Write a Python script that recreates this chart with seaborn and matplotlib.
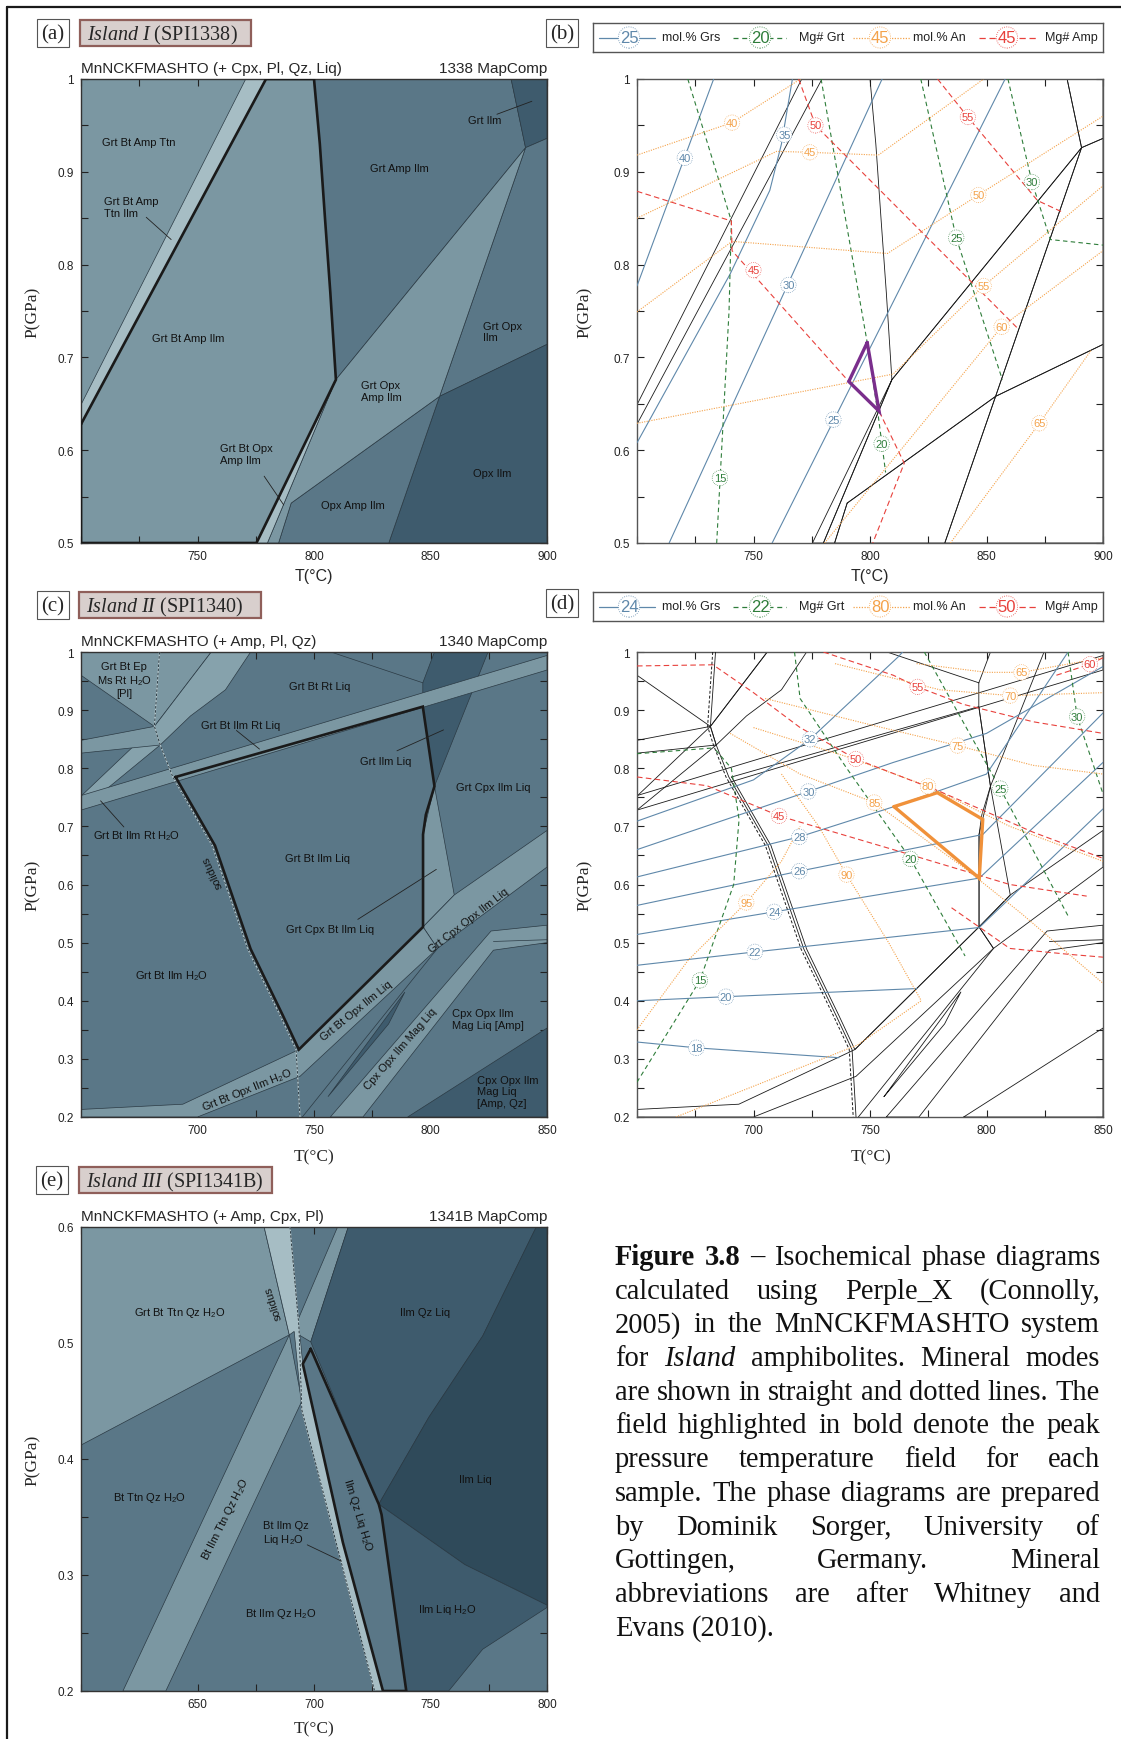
import numpy as np
import pandas as pd
import matplotlib
matplotlib.use("Agg")
import matplotlib.pyplot as plt
import seaborn as sns
from matplotlib.patches import Rectangle
from matplotlib.lines import Line2D

sns.set_theme(style="ticks")
plt.rcParams['font.family'] = ['Liberation Sans', 'DejaVu Sans']
plt.rcParams['mathtext.fontset'] = 'custom'
plt.rcParams['mathtext.rm'] = 'Liberation Sans'
plt.rcParams['mathtext.it'] = 'Liberation Serif:italic'

W, H = 1121, 1740
fig = plt.figure(figsize=(W / 100, H / 100), dpi=100)

# field shades
LL, L, M, D, DD = '#a6bdc4', '#7b97a2', '#5a7787', '#3e5b6d', '#2f4a5a'
BLUE, GREEN, ORANGE, RED = '#5f88aa', '#2e7d3a', '#f4a24a', '#e8413c'

# ---------------- data: panel (a) / (b)  T 700-900, P 0.5-1.0
a_fields = [
    (LL, [(700, 0.649), (770.7, 1.0), (779.4, 1.0), (700, 0.628)]),
    (M, [(800, 1.0), (884.6, 1.0), (890.8, 0.926), (809.4, 0.676), (807, 0.77), (804.8, 0.847), (802.5, 0.93)]),
    (D, [(884.6, 1.0), (900, 1.0), (900, 0.936), (890.8, 0.926)]),
    (M, [(890.8, 0.926), (900, 0.936), (900, 0.714), (853.9, 0.658)]),
    (D, [(853.9, 0.658), (900, 0.714), (900, 0.5), (832.1, 0.5)]),
    (M, [(790.2, 0.543), (853.9, 0.658), (832.1, 0.5), (784.8, 0.5)]),
    (L, [(809.4, 0.676), (890.8, 0.926), (853.9, 0.658), (790.2, 0.543), (784.8, 0.5), (780, 0.5)]),
    (LL, [(809.4, 0.676), (775.3, 0.5), (780, 0.5)]),
]
a_peak = [(700, 0.628), (779.4, 1.0), (800, 1.0), (802.5, 0.93), (804.8, 0.847), (807, 0.77),
          (809.4, 0.676), (775.3, 0.5), (700, 0.5)]
a_labels = [
    ("Grt Bt Amp Ttn", 724.6, 0.932, 0, 'center'),
    ("Grt Bt Amp\nTtn Ilm", 721.5, 0.862, 0, 'center'),
    ("Grt Amp Ilm", 836.6, 0.904, 0, 'center'),
    ("Grt Ilm", 873.1, 0.956, 0, 'center'),
    ("Grt Bt Amp Ilm", 746.0, 0.721, 0, 'center'),
    ("Grt Opx\nIlm", 880.8, 0.728, 0, 'center'),
    ("Grt Opx\nAmp Ilm", 828.9, 0.664, 0, 'center'),
    ("Grt Bt Opx\nAmp Ilm", 771.0, 0.596, 0, 'center'),
    ("Opx Amp Ilm", 816.7, 0.541, 0, 'center'),
    ("Opx Ilm", 876.5, 0.575, 0, 'center'),
]
a_leaders = [[(728.0, 0.851), (738.7, 0.827)], [(878.5, 0.962), (893.5, 0.976)],
             [(778.6, 0.572), (787.0, 0.541)]]

b_grs = {'40': [(700, 0.777), (732.9, 1.0)],
         '35': [(700, 0.608), (740, 0.79), (757, 0.88), (762, 0.93), (764, 0.96), (766.7, 1.0)],
         '30': [(713.8, 0.5), (805.2, 1.0)],
         '25': [(758, 0.5), (858, 1.0)]}
b_grs_lab = {'40': (720.5, 0.915), '35': (763.2, 0.94), '30': (765.0, 0.778), '25': (784.3, 0.633)}
b_grt = {'15': [(721.8, 1.0), (740.5, 0.847), (739.5, 0.75), (734.2, 0.5)],
         '20': [(779, 1.0), (798.8, 0.716), (803.6, 0.636), (806.7, 0.576)],
         '25': [(821.8, 1.0), (837, 0.829), (856.8, 0.676)],
         '30': [(859.2, 1.0), (869.5, 0.889), (877.4, 0.827), (900, 0.821)]}
b_grt_lab = {'15': (735.6, 0.570), '20': (805.0, 0.607), '25': (837, 0.829), '30': (869.5, 0.889)}
b_an = {'40': [(700, 0.918), (740.8, 0.953), (770.2, 1.0)],
        '45': [(700, 0.85), (759.9, 0.922), (774.2, 0.921), (803.6, 0.918), (848.8, 1.0)],
        '50': [(700, 0.749), (740.8, 0.825), (807.5, 0.812), (846.5, 0.875), (900, 0.96)],
        '55': [(700, 0.629), (809.9, 0.682), (848.8, 0.777), (900, 0.885)],
        '60': [(780.5, 0.5), (856.5, 0.733), (900, 0.815)],
        '65': [(834.5, 0.5), (872.7, 0.629), (895, 0.708)]}
b_an_lab = {'40': (740.8, 0.953), '45': (774.2, 0.921), '50': (846.5, 0.875), '55': (848.8, 0.777),
            '60': (856.5, 0.733), '65': (872.7, 0.629)}
b_amp = {'45': [(700, 0.879), (740.5, 0.847), (740.8, 0.815), (790.9, 0.674), (803.9, 0.642),
                (814.7, 0.586), (801.2, 0.5)],
         '50': [(769.4, 1.0), (776.6, 0.95), (863.9, 0.73)],
         '55': [(829, 1.0), (842, 0.959), (871.9, 0.869), (882.2, 0.857)]}
b_amp_lab = {'45': (750.0, 0.794), '50': (776.6, 0.95), '55': (842, 0.959)}
b_peak = [(798.8, 0.716), (790.9, 0.674), (803.9, 0.642)]
b_legend = ['25', '20', '45', '45']

# ---------------- data: panel (c) / (d)  T 650-850, P 0.2-1.0
c_fields = [
    (L, [(650, 1.0), (705.9, 1.0), (681.5, 0.872), (650, 0.96)]),
    ('#86a2ac', [(650, 0.752), (681.5, 0.872), (705.9, 1.0), (722.8, 1.0), (712, 0.935),
                 (697, 0.89), (684, 0.84), (650, 0.728)]),
    (L, [(650, 0.826), (650, 0.848), (681.5, 0.872), (684, 0.84)]),
    (D, [(796.7, 0.947), (801.7, 1.0), (824.7, 1.0), (801.7, 0.769), (796.7, 0.906)]),
    (L, [(650, 0.728), (650, 0.753), (850, 0.994), (850, 0.969)]),
    (L, [(801.7, 0.769), (810.2, 0.582), (796.8, 0.527), (796.8, 0.686)]),
    (L, [(796.8, 0.527), (810.2, 0.582), (850, 0.693), (850, 0.63), (803, 0.49)]),
    (L, [(650, 0.213), (693.7, 0.222), (743.5, 0.316), (796.8, 0.527), (803, 0.49), (744, 0.27),
         (700, 0.2), (650, 0.2)]),
    (L, [(757, 0.2), (771, 0.2), (827, 0.487), (850, 0.5), (850, 0.53), (826, 0.52)]),
    (D, [(756, 0.235), (789, 0.415), (782, 0.36)]),
    (D, [(790.2, 0.2), (850, 0.353), (850, 0.2)]),
]
c_extra = [[(757.3, 1.0), (796.7, 0.947)], [(827, 0.502), (850, 0.505)],
           [(745, 0.2), (803, 0.49)]]
c_peak = [(690.6, 0.785), (796.7, 0.906), (801.7, 0.769), (798, 0.72), (796.8, 0.686), (796.8, 0.527),
          (743.5, 0.316), (736.6, 0.375), (722.8, 0.489), (707.5, 0.667)]
c_solidus = [(683.7, 1.0), (681.5, 0.872), (684, 0.84), (689.4, 0.785), (706.3, 0.667),
             (721.6, 0.489), (735.4, 0.375), (742.3, 0.316), (744, 0.2)]
c_labels = [
    ("Grt Bt Ep\nMs Rt H$_\\mathrm{2}$O\n[Pl]", 668.5, 0.952, 0, 'center'),
    ("Grt Bt Rt Liq", 752.4, 0.941, 0, 'center'),
    ("Grt Bt Ilm Rt Liq", 718.5, 0.874, 0, 'center'),
    ("Grt Ilm Liq", 780.6, 0.812, 0, 'center'),
    ("Grt Cpx Ilm Liq", 827.0, 0.768, 0, 'center'),
    ("Grt Bt Ilm Rt H$_\\mathrm{2}$O", 673.8, 0.685, 0, 'center'),
    ("Grt Bt Ilm Liq", 751.5, 0.645, 0, 'center'),
    ("Grt Cpx Bt Ilm Liq", 756.8, 0.524, 0, 'center'),
    ("Grt Cpx Opx Ilm Liq", 816.3, 0.540, 38, 'center'),
    ("Grt Bt Ilm H$_\\mathrm{2}$O", 689.0, 0.444, 0, 'center'),
    ("Grt Bt Opx Ilm Liq", 768.0, 0.384, 39, 'center'),
    ("Cpx Opx Ilm Mag Liq", 787.2, 0.318, 49, 'center'),
    ("Cpx Opx Ilm\nMag Liq [Amp]", 809.4, 0.369, 0, 'left'),
    ("Grt Bt Opx Ilm H$_\\mathrm{2}$O", 721.3, 0.248, 22, 'center'),
    ("Cpx Opx Ilm\nMag Liq\n[Amp, Qz]", 820.1, 0.244, 0, 'left'),
    ("solidus", 706.7, 0.623, 115, 'center'),
]
c_leaders = [[(716.7, 0.865), (726.6, 0.833)], [(785.6, 0.83), (805.6, 0.866)],
             [(668.4, 0.699), (658.4, 0.744)], [(768.8, 0.54), (802.5, 0.626)]]

d_grs = {'18': [(650, 0.329), (675.5, 0.319), (736.7, 0.302)],
         '20': [(650, 0.40), (688.2, 0.407), (770.1, 0.421)],
         '22': [(650, 0.461), (700.6, 0.484), (796.9, 0.526), (850, 0.73)],
         '24': [(650, 0.514), (708.9, 0.553), (796.9, 0.611), (850, 0.81)],
         '26': [(650, 0.564), (719.7, 0.623), (798.4, 0.686), (850, 0.895)],
         '28': [(650, 0.613), (719.7, 0.682), (760.3, 0.734), (800, 0.79), (835, 1.0)],
         '30': [(650, 0.66), (723.5, 0.76), (760, 0.81), (800, 0.86), (850, 0.975)],
         '32': [(650, 0.709), (700, 0.78), (724.3, 0.85), (762.2, 0.992), (764, 1.0)]}
d_grs_lab = {'18': (675.5, 0.319), '20': (688.2, 0.407), '22': (700.6, 0.484), '24': (708.9, 0.553),
             '26': (719.7, 0.623), '28': (719.7, 0.682), '30': (723.5, 0.76), '32': (724.3, 0.85)}
d_grt = {'15': [(650, 0.26), (677, 0.435), (691.5, 0.6), (693.8, 0.712), (690.5, 0.8), (683, 0.835)],
         'x': [(650, 0.825), (683, 0.835)],
         '20': [(717.6, 1.0), (720, 0.92), (740, 0.8), (767.4, 0.644), (790.8, 0.477)],
         '25': [(773.3, 1.0), (795.6, 0.839), (805.9, 0.765), (835.4, 0.543)],
         '30': [(835, 1.0), (838.9, 0.889), (850, 0.756)]}
d_grt_lab = {'15': (677, 0.435), '20': (767.4, 0.644), '25': (805.9, 0.765), '30': (838.9, 0.889)}
d_an = {'65': [(770, 0.98), (800, 0.965), (815, 0.965), (850, 0.99)],
        '70': [(735, 0.98), (780, 0.935), (810.2, 0.925), (850, 0.93)],
        '75': [(705, 0.92), (750, 0.875), (787.6, 0.839), (820, 0.805), (850, 0.79)],
        '80': [(700, 0.87), (740, 0.82), (774.9, 0.769), (810, 0.7), (850, 0.64)],
        '85': [(690, 0.86), (720, 0.79), (751.8, 0.741), (790, 0.63), (815, 0.55), (850, 0.43)],
        '90': [(712, 0.79), (728, 0.7), (739.9, 0.617), (758, 0.5), (772, 0.4)],
        '95': [(650, 0.35), (672, 0.47), (696.9, 0.569), (712, 0.64), (720, 0.7)],
        'x': [(666.7, 0.2), (744.7, 0.324), (772, 0.4)]}
d_an_lab = {'65': (815, 0.965), '70': (810.2, 0.925), '75': (787.6, 0.839), '80': (774.9, 0.769),
            '85': (751.8, 0.741), '90': (739.9, 0.617), '95': (696.9, 0.569)}
d_amp = {'45': [(650, 0.785), (680, 0.77), (711, 0.718), (760, 0.66), (810, 0.6), (843, 0.58)],
         '50': [(650, 0.976), (682.6, 0.978), (700, 0.93), (720, 0.87), (743.9, 0.816), (780, 0.76),
                (820, 0.69), (850, 0.645)],
         '55': [(730, 1.0), (760, 0.96), (770.4, 0.94), (790, 0.91), (820, 0.88), (850, 0.86)],
         '60': [(830, 0.96), (844.4, 0.979), (850, 0.99)],
         'x': [(785, 0.56), (810, 0.49), (835, 0.48), (850, 0.475)]}
d_amp_lab = {'45': (711, 0.718), '50': (743.9, 0.816), '55': (770.4, 0.94), '60': (844.4, 0.979)}
d_peak = [(760.3, 0.734), (778.9, 0.758), (798.4, 0.712), (796.9, 0.611)]
d_legend = ['24', '22', '80', '50']

# ---------------- data: panel (e)  T 600-800, P 0.2-0.6
e_fields = [
    (L, [(600, 0.6), (678.6, 0.6), (689.4, 0.507), (600, 0.412)]),
    (L, [(618, 0.2), (689.4, 0.507), (694.8, 0.45), (636.4, 0.2)]),
    (L, [(691, 0.51), (710.1, 0.6), (714.7, 0.6), (698.6, 0.501)]),
    (LL, [(678.6, 0.6), (689.7, 0.6), (693.5, 0.515), (695.2, 0.482), (712.4, 0.328), (729.6, 0.2),
          (726, 0.2), (694.8, 0.442), (691.5, 0.51), (689.4, 0.507)]),
    (D, [(714.7, 0.6), (795.4, 0.6), (772.4, 0.506), (749.3, 0.436), (727.8, 0.361), (698.6, 0.501)]),
    (DD, [(795.4, 0.6), (800, 0.6), (800, 0.274), (764.7, 0.309), (727.8, 0.361), (749.3, 0.436),
          (772.4, 0.506)]),
    (D, [(727.8, 0.361), (764.7, 0.309), (800, 0.274), (800, 0.272), (772.4, 0.236), (757.8, 0.2),
         (739.6, 0.2), (729, 0.352)]),
]
e_peak = [(698.6, 0.495), (695.2, 0.482), (712.4, 0.328), (729.6, 0.2), (739.6, 0.2), (729, 0.352),
          (727.8, 0.361)]
e_solidus = [(689.7, 0.6), (693.5, 0.515), (694.8, 0.442), (726, 0.2)]
e_labels = [
    ("Grt Bt Ttn Qz H$_\\mathrm{2}$O", 642.5, 0.527, 0, 'center'),
    ("solidus", 682.5, 0.535, 108, 'center'),
    ("Ilm Qz Liq", 747.8, 0.527, 0, 'center'),
    ("Ilm Liq", 769.3, 0.383, 0, 'center'),
    ("Bt Ttn Qz H$_\\mathrm{2}$O", 629.5, 0.367, 0, 'center'),
    ("Bt Ilm Ttn Qz H$_\\mathrm{2}$O", 661.8, 0.349, 63, 'center'),
    ("Bt Ilm Qz\nLiq H$_\\mathrm{2}$O", 687.9, 0.336, 0, 'center'),
    ("Ilm Qz Liq H$_\\mathrm{2}$O", 718.6, 0.352, -73, 'center'),
    ("Bt Ilm Qz H$_\\mathrm{2}$O", 685.6, 0.267, 0, 'center'),
    ("Ilm Liq H$_\\mathrm{2}$O", 757.3, 0.271, 0, 'center'),
]
e_leaders = [[(697.1, 0.326), (711.7, 0.312)]]

ab_xticklabels = [750, 800, 850, 900]
cd_xticklabels = [700, 750, 800, 850]
e_xticklabels = [650, 700, 750, 800]
legend_names = ['mol.% Grs', 'Mg# Grt', 'mol.% An', 'Mg# Amp']

caption = [
    "**Figure** **3.8** – Isochemical phase diagrams",
    "calculated using Perple_X (Connolly,",
    "2005) in the MnNCKFMASHTO system",
    "for *Island* amphibolites. Mineral modes",
    "are shown in straight and dotted lines. The",
    "field highlighted in bold denote the peak",
    "pressure temperature field for each",
    "sample. The phase diagrams are prepared",
    "by Dominik Sorger, University of",
    "Gottingen, Germany. Mineral",
    "abbreviations are after Whitney and",
    "Evans (2010).",
]


def px_axes(l, t, r, b):
    return fig.add_axes([l / W, 1 - b / H, (r - l) / W, (b - t) / H])


def style_axes(ax, xlim, ylim, xlabs):
    ax.set_xlim(*xlim)
    ax.set_ylim(*ylim)
    xt = np.arange(xlim[0], xlim[1] + 1, 25)
    ax.set_xticks(xt, [f"{v:g}" if v in xlabs else "" for v in xt])
    yt = np.round(np.arange(ylim[0], ylim[1] + 1e-9, 0.05), 2)
    ax.set_yticks(yt, [f"{v:g}" if abs(v * 10 - round(v * 10)) < 1e-6 else "" for v in yt])
    ax.tick_params(direction='in', top=True, right=True, length=5, width=0.8,
                   labelsize=8.5, pad=5, colors='#222')
    for s in ax.spines.values():
        s.set_linewidth(1.0)
        s.set_color('#333')
    ax.set_xlabel('')
    ax.set_ylabel('')


def draw_fields(ax, fields, base):
    ax.set_facecolor(base)
    for col, pts in fields:
        xs, ys = zip(*pts)
        ax.fill(xs, ys, color=col, ec='#2b3a44', lw=0.5, zorder=1)


def draw_network(ax, fields, extra=()):
    for _, pts in fields:
        xs, ys = zip(*(pts + [pts[0]]))
        ax.plot(xs, ys, color='k', lw=0.6, zorder=2)
    for pts in extra:
        xs, ys = zip(*pts)
        ax.plot(xs, ys, color='k', lw=0.6, zorder=2)


def draw_peak(ax, pts, color='k', lw=1.9):
    xs, ys = zip(*(pts + [pts[0]]))
    ax.plot(xs, ys, color=color, lw=lw, zorder=5, solid_joinstyle='miter')


def draw_solidus(ax, pts, on_white=False):
    xs, ys = zip(*pts)
    if on_white:
        ax.plot(xs, ys, color='k', lw=0.6, zorder=3)
        ax.plot([x - 1.2 for x in xs], ys, color='k', lw=0.7, ls=(0, (3, 2)), zorder=4)
    else:
        ax.plot(xs, ys, color='#b9cbd0', lw=0.9, zorder=3)
        ax.plot(xs, ys, color='#1c2a32', lw=0.6, ls=(0, (3, 2)), zorder=4)


def draw_labels(ax, labels, leaders):
    for txt, t, p, rot, ha in labels:
        ax.text(t, p, txt, fontsize=8, ha=ha, va='center', rotation=rot, rotation_mode='anchor',
                multialignment='left' if '[Pl]' not in txt else 'center', color='#111', zorder=6)
    for pts in leaders:
        xs, ys = zip(*pts)
        ax.plot(xs, ys, color='#222', lw=0.6, zorder=6)


def draw_iso(ax, lines, labpos, color, ls):
    rows = [(k, t, p) for k, pts in lines.items() for t, p in pts]
    df = pd.DataFrame(rows, columns=['iso', 'T', 'P'])
    sns.lineplot(data=df, x='T', y='P', units='iso', estimator=None, sort=False, color=color,
                 linestyle=ls, lw=0.8, ax=ax, legend=False, zorder=3)
    for k, (t, p) in labpos.items():
        ax.text(t, p, k, color=color, fontsize=8, ha='center', va='center', zorder=7,
                bbox=dict(boxstyle='circle,pad=0.14', fc='white', ec=color, lw=0.5, ls=':'))


def header(label, cx, cy, island=None):
    fig.add_artist(Rectangle(((cx - 16) / W, 1 - (cy + 14) / H), 32 / W, 28 / H,
                             transform=fig.transFigure, fc='white', ec='#555', lw=0.8))
    fig.text(cx / W, 1 - (cy + 1) / H, label, ha='center', va='center', fontsize=15,
             family='Liberation Serif')
    if island:
        txt, x0, x1 = island
        fig.add_artist(Rectangle((x0 / W, 1 - (cy + 13) / H), (x1 - x0) / W, 26 / H,
                                 transform=fig.transFigure, fc='#d8cfcd', ec='#8f5f5a', lw=1.6))
        fig.text((x0 + 7) / W, 1 - (cy + 1) / H, txt, ha='left', va='center', fontsize=14.5,
                 family='Liberation Serif')


def legend_box(t, b, nums):
    lg = px_axes(593, t, 1103, b)
    lg.set_xlim(593, 1103)
    lg.set_ylim(0, 1)
    lg.set_xticks([])
    lg.set_yticks([])
    for s in lg.spines.values():
        s.set_color('#555')
        s.set_linewidth(1.0)
    spec = [(BLUE, '-', 599, 655, 629, 662), (GREEN, (0, (4, 3)), 733, 786, 760, 799),
            (ORANGE, (0, (1, 1.2)), 853, 910, 880, 913), (RED, (0, (5, 3)), 979, 1036, 1007, 1045)]
    for (col, ls, x0, x1, xc, xt), num, name in zip(spec, nums, legend_names):
        lg.plot([x0, x1], [0.5, 0.5], color=col, ls=ls, lw=0.9)
        lg.text(xc, 0.5, num, color=col, fontsize=12, ha='center', va='center',
                bbox=dict(boxstyle='circle,pad=0.08', fc='white', ec=col, lw=0.6, ls=':'))
        lg.text(xt, 0.5, name, fontsize=9, ha='left', va='center', color='#222')


def subtitles(ax, left, right):
    ax.text(0, 1.008, left, transform=ax.transAxes, ha='left', va='bottom', fontsize=11)
    ax.text(1, 1.008, right, transform=ax.transAxes, ha='right', va='bottom', fontsize=11)


# ---------------- panel (a)
ax_a = px_axes(81, 80, 547, 544)
draw_fields(ax_a, a_fields, L)
draw_peak(ax_a, a_peak)
draw_labels(ax_a, a_labels, a_leaders)
style_axes(ax_a, (700, 900), (0.5, 1.0), ab_xticklabels)
subtitles(ax_a, "MnNCKFMASHTO (+ Cpx, Pl, Qz, Liq)", "1338 MapComp")

# ---------------- panel (b)
ax_b = px_axes(637, 80, 1103, 544)
draw_network(ax_b, a_fields)
draw_iso(ax_b, b_grs, b_grs_lab, BLUE, '-')
draw_iso(ax_b, b_grt, b_grt_lab, GREEN, (0, (4, 3)))
draw_iso(ax_b, b_an, b_an_lab, ORANGE, (0, (1, 1.2)))
draw_iso(ax_b, b_amp, b_amp_lab, RED, (0, (5, 3)))
draw_peak(ax_b, b_peak, color='#7a2e8c', lw=2.4)
style_axes(ax_b, (700, 900), (0.5, 1.0), ab_xticklabels)
for s in ax_b.spines.values():
    s.set_color('#555')

# ---------------- panel (c)
ax_c = px_axes(81, 653, 547, 1118)
draw_fields(ax_c, c_fields, M)
for pts in c_extra:
    xs, ys = zip(*pts)
    ax_c.plot(xs, ys, color='#2b3a44', lw=0.5, zorder=2)
draw_solidus(ax_c, c_solidus)
draw_peak(ax_c, c_peak)
draw_labels(ax_c, c_labels, c_leaders)
style_axes(ax_c, (650, 850), (0.2, 1.0), cd_xticklabels)
subtitles(ax_c, "MnNCKFMASHTO (+ Amp, Pl, Qz)", "1340 MapComp")

# ---------------- panel (d)
ax_d = px_axes(637, 653, 1103, 1118)
draw_network(ax_d, c_fields, c_extra + [c_peak + [c_peak[0]]])
draw_solidus(ax_d, c_solidus, on_white=True)
draw_iso(ax_d, d_grs, d_grs_lab, BLUE, '-')
draw_iso(ax_d, d_grt, d_grt_lab, GREEN, (0, (4, 3)))
draw_iso(ax_d, d_an, d_an_lab, ORANGE, (0, (1, 1.2)))
draw_iso(ax_d, d_amp, d_amp_lab, RED, (0, (5, 3)))
draw_peak(ax_d, d_peak, color='#f0913a', lw=2.4)
style_axes(ax_d, (650, 850), (0.2, 1.0), cd_xticklabels)
for s in ax_d.spines.values():
    s.set_color('#555')

# ---------------- panel (e)
ax_e = px_axes(81, 1228, 547, 1692)
draw_fields(ax_e, e_fields, M)
draw_solidus(ax_e, e_solidus)
draw_peak(ax_e, e_peak)
draw_labels(ax_e, e_labels, e_leaders)
style_axes(ax_e, (600, 800), (0.2, 0.6), e_xticklabels)
subtitles(ax_e, "MnNCKFMASHTO (+ Amp, Cpx, Pl)", "1341B MapComp")

# ---------------- headers, legends, axis titles
header('(a)', 53, 34, (r'$\mathit{Island\ I}$ (SPI1338)', 80, 251))
header('(b)', 562, 34)
legend_box(24, 53, b_legend)
header('(c)', 53, 606, (r'$\mathit{Island\ II}$ (SPI1340)', 79, 261))
header('(d)', 562, 604)
legend_box(593, 622, d_legend)
header('(e)', 52, 1181, (r'$\mathit{Island\ III}$ (SPI1341B)', 79, 272))

for x, y in [(33, 312), (585, 312), (33, 885), (585, 885), (33, 1460)]:
    fig.text(x / W, 1 - y / H, 'P(GPa)', rotation=90, ha='center', va='center', fontsize=12.5,
             family='Liberation Serif')
for x, y, fam in [(314, 577, 'Liberation Sans'), (870, 577, 'Liberation Sans'),
                  (314, 1157, 'Liberation Serif'), (871, 1157, 'Liberation Serif'),
                  (314, 1729, 'Liberation Serif')]:
    fig.text(x / W, 1 - y / H, 'T(°C)', ha='center', va='center',
             fontsize=11.5 if fam == 'Liberation Sans' else 12.5, family=fam)

# outer frame (top and left)
fig.add_artist(Line2D([7 / W, 1], [1 - 8 / H, 1 - 8 / H], transform=fig.transFigure, color='k', lw=1.6))
fig.add_artist(Line2D([7 / W, 7 / W], [0, 1 - 8 / H], transform=fig.transFigure, color='k', lw=1.6))

# ---------------- justified caption
renderer = fig.canvas.get_renderer()


def parse(word):
    if word.startswith('**'):
        return word.strip('*'), 'bold', 'normal'
    if word.startswith('*'):
        return word.strip('*'), 'normal', 'italic'
    return word, 'normal', 'normal'


def word_width(w, weight, style, fs):
    t = fig.text(0, 0, w, fontsize=fs, family='Liberation Serif', weight=weight, style=style)
    wd = t.get_window_extent(renderer).width
    t.remove()
    return wd


cap_left, cap_right, base0, step = 615, 1100, 1265, 33.7
fs0 = 19
words5 = [parse(w) for w in caption[4].split()]
nat5 = sum(word_width(w, a, b, fs0) for w, a, b in words5) + (len(words5) - 1) * 0.25 * fs0 * 100 / 72
fs = fs0 * (cap_right - cap_left) / nat5
space = 0.25 * fs * 100 / 72
for i, line in enumerate(caption):
    words = [parse(w) for w in line.split()]
    widths = [word_width(w, a, b, fs) for w, a, b in words]
    if i == len(caption) - 1:
        gap = space
    else:
        gap = max(((cap_right - cap_left) - sum(widths)) / (len(words) - 1), 0.6 * space)
    x = cap_left
    yb = base0 + i * step
    for (w, a, b), wd in zip(words, widths):
        fig.text(x / W, 1 - yb / H, w, fontsize=fs, family='Liberation Serif', weight=a, style=b,
                 ha='left', va='baseline', color='#111')
        x += wd + gap

fig.savefig('out.png', dpi=100)
